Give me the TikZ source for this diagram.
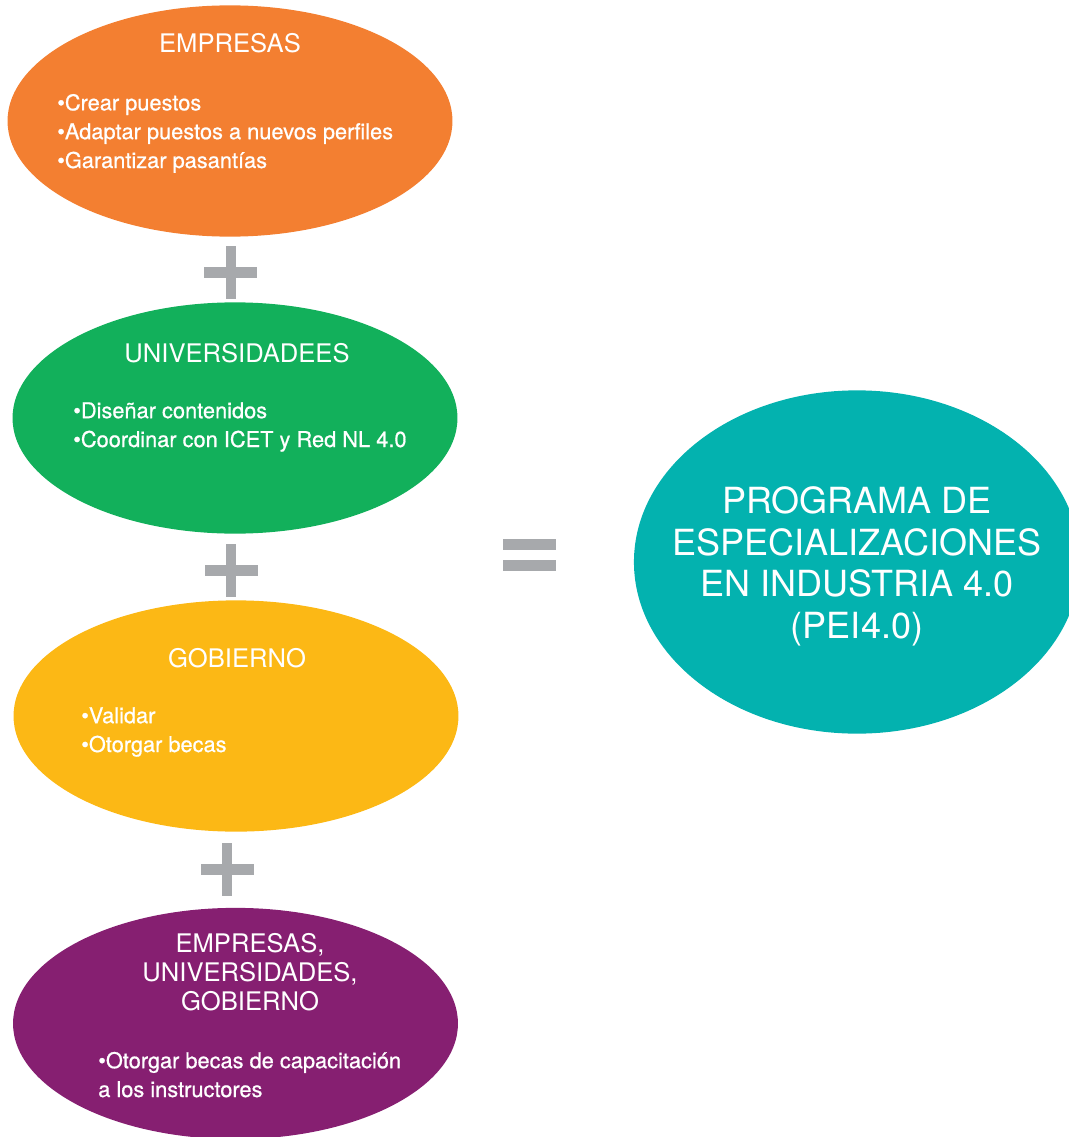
\documentclass[tikz,border=0pt]{standalone}
\usepackage{fontspec}
\setmainfont{TeX Gyre Heros}
\newfontfamily\medio{TeX Gyre Heros}[FakeBold=0.7]
\usetikzlibrary{positioning, shapes.geometric}
\definecolor{empresas}{HTML}{F37F31}
\definecolor{univ}{HTML}{12B05B}
\definecolor{gobierno}{HTML}{FCB815}
\definecolor{todos}{HTML}{861F71}
\definecolor{programa}{HTML}{03B2AF}
\definecolor{signo}{HTML}{A7A9AC}

\tikzset{
  actor/.style={ellipse, inner sep=0pt, minimum width=11.12cm, minimum height=5.78cm},
  titulo/.style={text=white, align=center, anchor=base, inner sep=0pt,
    font=\fontsize{18.2}{20.3}\selectfont},
  tareas/.style={text=white, align=left, anchor=base west, inner sep=0pt,
    font=\medio\fontsize{15.5}{20.5}\selectfont},
}

\begin{document}
\begin{tikzpicture}[x=0.025cm, y=-0.025cm]
    \useasboundingbox (0,0) rectangle (1069,1137);

    % los cuatro actores
    \node[actor, fill=empresas] (emp) at (230,121) {};
    \node[actor, fill=univ] (uni) at (235,418) {};
    \node[actor, fill=gobierno] (gob) at (236,716) {};
    \node[actor, fill=todos] (tod) at (235.5,1023.5) {};

    % (anchor base = ultima linea)
    \node[titulo] (emp-t) at (230,53) {EMPRESAS};
    \node[tareas] (emp-l) at (57,168) {•Crear puestos\\•Adaptar puestos a nuevos perfiles\\•Garantizar pasantías};

    \node[titulo] (uni-t) at (237,362) {UNIVERSIDADEES};
    \node[tareas] (uni-l) at (73,447) {•Diseñar contenidos\\•Coordinar con ICET y Red NL 4.0};

    \node[titulo] (gob-t) at (237,667) {GOBIERNO};
    \node[tareas] (gob-l) at (81,752) {•Validar\\•Otorgar becas};

    \node[titulo] (tod-t) at (250,1010) {EMPRESAS,\\UNIVERSIDADES,\\GOBIERNO};
    \node[tareas] (tod-l) at (98,1097) {•Otorgar becas de capacitación\\a los instructores};

    % resultado
    \node[ellipse, inner sep=0pt, fill=programa, minimum width=11.15cm, minimum height=8.58cm] (prog) at (857,562) {};
    \node[text=white, align=center, anchor=base, inner sep=0pt,
      font=\fontsize{25.6}{29.5}\selectfont] (prog-t) at (857,638)
      {PROGRAMA DE\\ESPECIALIZACIONES\\EN INDUSTRIA 4.0\\(PEI4.0)};

    % signos
    \foreach \x/\y in {230.5/272, 231/570.5, 227/869} {
      \fill[signo] (\x-26.5,\y-5.5) rectangle (\x+26.5,\y+5.5);
      \fill[signo] (\x-5,\y-26.5) rectangle (\x+5,\y+26.5);
    }
    \fill[signo] (503,539) rectangle (556,550);
    \fill[signo] (503,560) rectangle (556,571);
  \end{tikzpicture}
\end{document}
